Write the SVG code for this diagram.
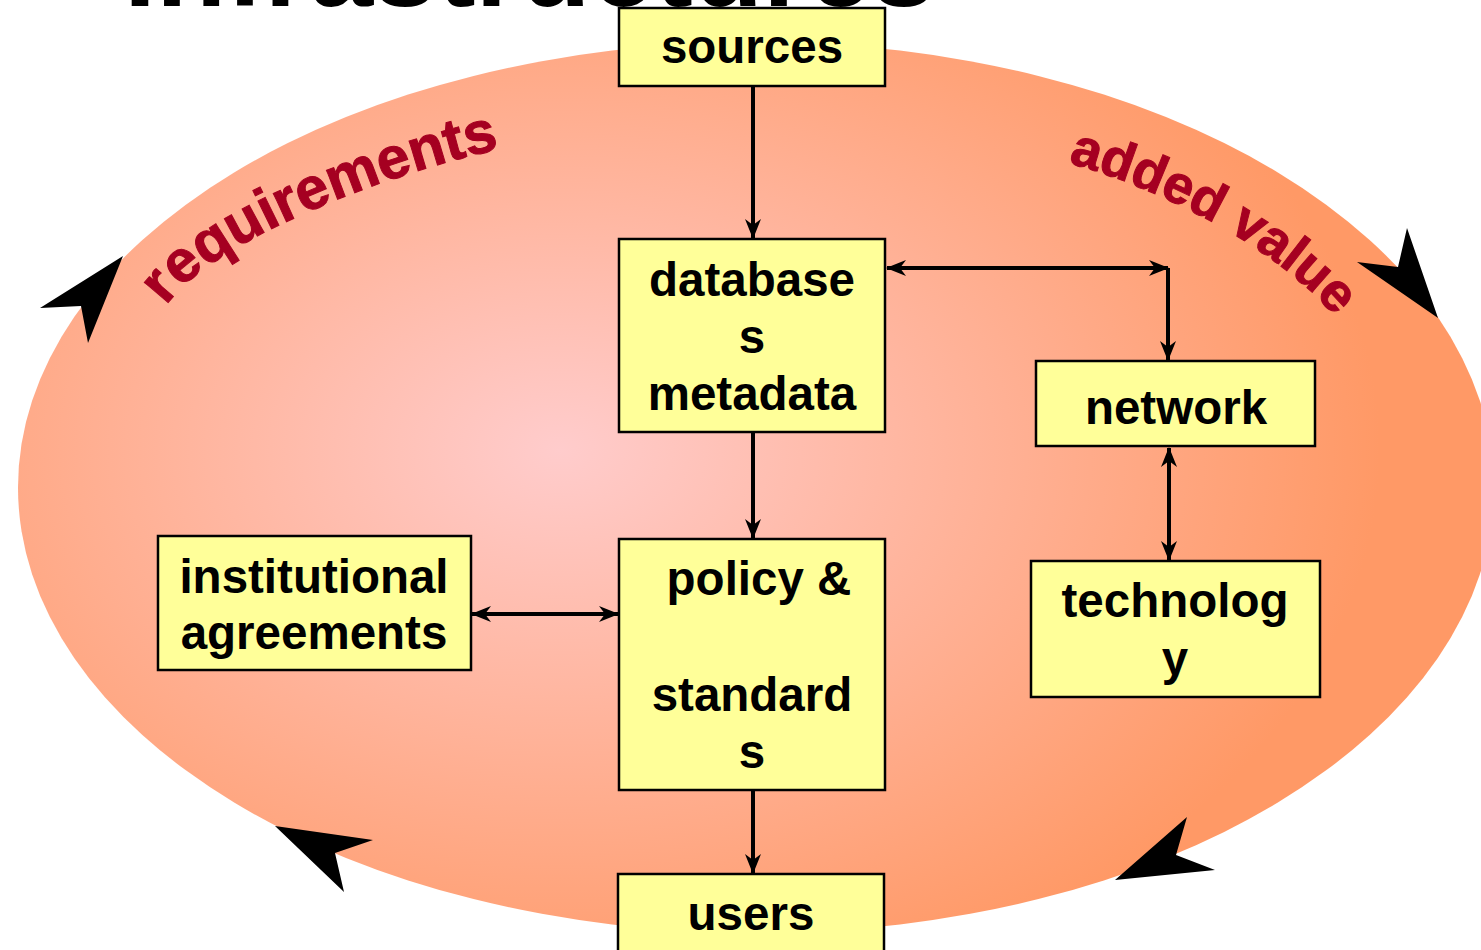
<svg xmlns="http://www.w3.org/2000/svg" width="1481" height="950" viewBox="0 0 1481 950">
<defs>
<radialGradient id="bg" gradientUnits="userSpaceOnUse" cx="560" cy="450" r="820" gradientTransform="translate(560 450) scale(1 0.7) translate(-560 -450)">
<stop offset="0" stop-color="#FFCCCC"/>
<stop offset="1" stop-color="#FF9966"/>
</radialGradient>
<marker id="ah" viewBox="-22 -10 24 20" refX="0" refY="0" markerWidth="24" markerHeight="20" markerUnits="userSpaceOnUse" orient="auto-start-reverse">
<path d="M1,0 L-19,-8 L-13,0 L-19,8 Z" fill="#000"/>
</marker>
<path id="p-req" d="M166,306 C210,240 400,168 515,146"/>
<path id="p-add" d="M1068,163 C1155,186 1278,247 1336,318"/>
</defs>
<style>
.box{fill:#FFFF99;stroke:#000;stroke-width:2.5}
.lbl{font-family:"Liberation Sans",Arial,sans-serif;font-weight:bold;font-size:47.5px;fill:#000;text-anchor:middle}
.arc{font-family:"Liberation Sans",Arial,sans-serif;font-weight:bold;fill:#A50021;stroke:#A50021;stroke-width:1}
.con{fill:none;stroke:#000;stroke-width:4}
.big{fill:#000}
</style>
<text x="124" y="6" font-family="Liberation Sans, Arial, sans-serif" font-weight="bold" font-size="115">Infrastructures</text>
<ellipse cx="756" cy="487.5" rx="738" ry="445.5" fill="url(#bg)"/>
<g id="cycle-arrows">
<polygon class="big" points="123,256 40,308 81,306 88,343"/>
<polygon class="big" points="1438,318 1357,262 1398,267 1407,228"/>
<polygon class="big" points="1115,880 1187,817 1176,855 1215,870"/>
<polygon class="big" points="275,826 373,840 335,853 344,892"/>
</g>
<text class="arc" font-size="59"><textPath href="#p-req">requirements</textPath></text>
<text class="arc" font-size="54"><textPath href="#p-add">added value</textPath></text>
<g id="connectors">
<line class="con" x1="753" y1="86" x2="753" y2="238" marker-end="url(#ah)"/>
<line class="con" x1="887" y1="268" x2="1168" y2="268" marker-start="url(#ah)" marker-end="url(#ah)"/>
<line class="con" x1="1168" y1="268" x2="1168" y2="360" marker-end="url(#ah)"/>
<line class="con" x1="753" y1="432" x2="753" y2="538" marker-end="url(#ah)"/>
<line class="con" x1="472" y1="614" x2="618" y2="614" marker-start="url(#ah)" marker-end="url(#ah)"/>
<line class="con" x1="1169" y1="448" x2="1169" y2="560" marker-start="url(#ah)" marker-end="url(#ah)"/>
<line class="con" x1="753" y1="790" x2="753" y2="873" marker-end="url(#ah)"/>
</g>
<g id="sources">
<rect class="box" x="619" y="8" width="266" height="78"/>
<text class="lbl" x="752" y="63">sources</text>
</g>
<g id="databases">
<rect class="box" x="619" y="239" width="266" height="193"/>
<text class="lbl" x="752" y="296">database</text>
<text class="lbl" x="752" y="353">s</text>
<text class="lbl" x="752" y="410">metadata</text>
</g>
<g id="network">
<rect class="box" x="1036" y="361" width="279" height="85"/>
<text class="lbl" x="1176" y="424">network</text>
</g>
<g id="technology">
<rect class="box" x="1031" y="561" width="289" height="136"/>
<text class="lbl" x="1175" y="617">technolog</text>
<text class="lbl" x="1175" y="675">y</text>
</g>
<g id="institutional">
<rect class="box" x="158" y="536" width="313" height="134"/>
<text class="lbl" x="314" y="593">institutional</text>
<text class="lbl" x="314" y="649">agreements</text>
</g>
<g id="policy">
<rect class="box" x="619" y="539" width="266" height="251"/>
<text class="lbl" x="759" y="595">policy &amp;</text>
<text class="lbl" x="752" y="711">standard</text>
<text class="lbl" x="752" y="768">s</text>
</g>
<g id="users">
<rect class="box" x="618" y="874" width="266" height="90"/>
<text class="lbl" x="751" y="930">users</text>
</g>
</svg>
